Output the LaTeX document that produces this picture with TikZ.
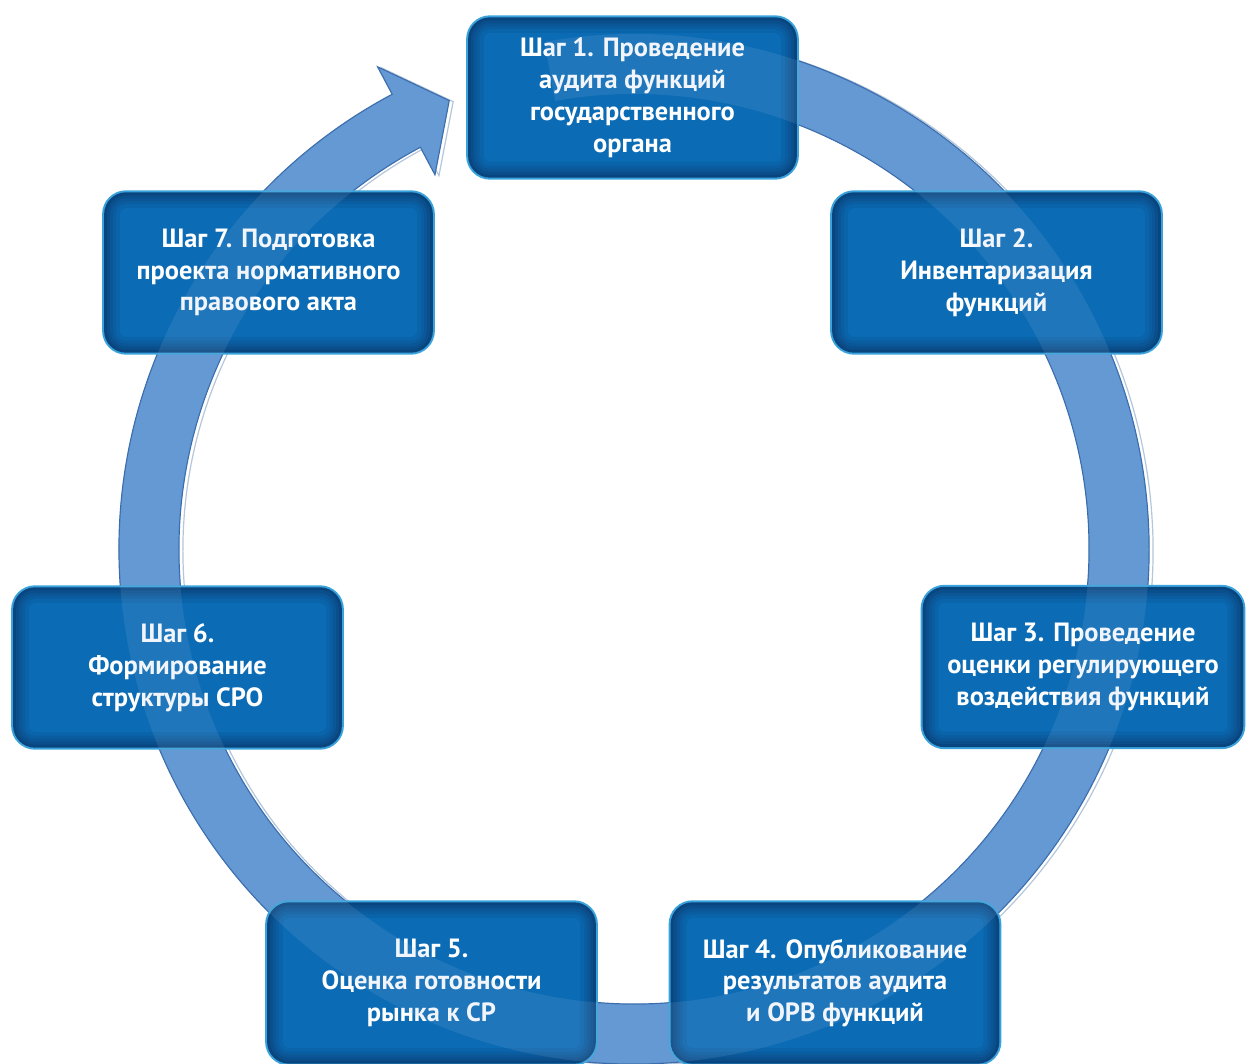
\documentclass[tikz,border=0pt]{standalone}
\usepackage{fontspec}
\setmainfont{PT Sans}
\begin{document}
\begin{tikzpicture}[x=1bp,y=1bp,
  ringfill/.style={fill=ringblue, draw=ringedge, line width=1.2},
  stepbox/.style={
    rectangle, rounded corners=24, inner sep=0pt, outer sep=0pt,
    minimum width=334, minimum height=165,
    fill=rim, text=white, align=center,
    font=\bfseries\fontsize{26.5}{32}\selectfont,
    path picture={
      \foreach \d/\c in {2/bA,5/bB,8/bC,11/bD,14/bE,18/bF}{
        \pgfmathsetmacro\rr{max(24-\d,4)}
        \fill[\c, rounded corners=\rr]
          ([xshift=\d, yshift=\d]path picture bounding box.south west)
          rectangle
          ([xshift=-\d, yshift=-\d]path picture bounding box.north east);
      }
    }
  }
]
\definecolor{ringblue}{HTML}{5B93D1}
\definecolor{ringedge}{HTML}{3468AA}
\definecolor{ringlight}{HTML}{B4C6DA}
\definecolor{rim}{HTML}{3AA3DC}
\definecolor{bA}{HTML}{094680}
\definecolor{bB}{HTML}{0A4E8B}
\definecolor{bC}{HTML}{0A5696}
\definecolor{bD}{HTML}{0A5DA0}
\definecolor{bE}{HTML}{0A64AA}
\definecolor{bF}{HTML}{0B6BB4}

\useasboundingbox (0,0) rectangle (1248,1064);
\fill[white] (0,0) rectangle (1248,1064);

\coordinate (C) at (634,515);

% cyclic arrow: annulus from behind step 1, clockwise, ending in a head
\def\ringpath{
  ([shift={(C)}]100:515) arc[start angle=100, end angle=-242, radius=515]
  -- ([shift={(C)}]-242:546)
  -- ([shift={(C)}]-247.6:485)
  -- ([shift={(C)}]-242:424)
  -- ([shift={(C)}]-242:455)
  arc[start angle=-242, end angle=100, radius=455] -- cycle}
\draw[ringlight, line width=1.2, xshift=4, yshift=-1] \ringpath;
\path[ringfill] \ringpath;

% steps
\node[stepbox] (s1) at (632.5,966.5) {Шаг 1. Проведение\\аудита функций\\государственного\\органа};
\node[stepbox] (s2) at (996.5,791.5) {Шаг 2.\\Инвентаризация\\функций};
\node[stepbox, minimum width=326] (s3) at (1083,397) {Шаг 3. Проведение\\оценки регулирующего\\воздействия функций};
\node[stepbox, minimum height=166] (s4) at (835,81) {Шаг 4. Опубликование\\результатов аудита\\и ОРВ функций};
\node[stepbox, minimum height=166] (s5) at (431.5,81) {Шаг 5.\\Оценка готовности\\рынка к СР};
\node[stepbox] (s6) at (177.5,396.5) {Шаг 6.\\Формирование\\структуры СРО};
\node[stepbox] (s7) at (268.5,791.5) {Шаг 7. Подготовка\\проекта нормативного\\правового акта};

% faint ring seen through the boxes
\fill[ringblue!60!white, fill opacity=0.14] \ringpath;
\end{tikzpicture}
\end{document}
